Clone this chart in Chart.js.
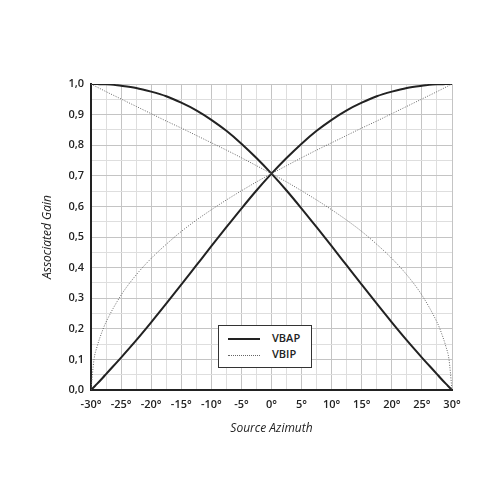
<!DOCTYPE html>
<html lang="en">
<head>
<meta charset="UTF-8">
<script src="https://cdn.jsdelivr.net/npm/chart.js"></script>
<title>VBAP vs VBIP</title>
<style>
  html, body { margin: 0; padding: 0; background: #fff; }
  #wrap { position: relative; width: 500px; height: 500px; }
  #legend {
    position: absolute; left: 218px; top: 325px; width: 94px; height: 43px;
    box-sizing: border-box; border: 1px solid #333; background: #fff;
    font-family: "Open Sans", sans-serif; font-size: 11px; font-weight: 600; color: #222;
  }
  #legend .row { position: absolute; left: 9px; height: 14px; line-height: 14px; }
  #legend .swatch { display: inline-block; width: 32px; vertical-align: middle; margin-right: 12px; }
</style>
</head>
<body>
<div id="wrap">
  <canvas id="chart" width="500" height="500"></canvas>
  <div id="legend">
    <div class="row" style="top:5px"><span class="swatch" style="border-top:2px solid #222"></span>VBAP</div>
    <div class="row" style="top:21px"><span class="swatch" style="border-top:1px dotted #666"></span>VBIP</div>
  </div>
</div>

<script>
// source azimuth in degrees
const azimuth = [-30, -29.5, -29, -28, -27.5, -25, -22.5, -20, -17.5, -15, -12.5, -10, -7.5, -5, -2.5, 0,
                 2.5, 5, 7.5, 10, 12.5, 15, 17.5, 20, 22.5, 25, 27.5, 28, 29, 29.5, 30];

// gains
const vbapRise = [0, 0.010, 0.020, 0.041, 0.052, 0.106, 0.162, 0.221, 0.282, 0.344, 0.407, 0.470, 0.532, 0.593, 0.652, 0.707,
                  0.758, 0.805, 0.847, 0.883, 0.914, 0.939, 0.960, 0.975, 0.987, 0.994, 0.999, 0.999, 1.000, 1.000, 1.000];
const vbapFall = [1.000, 1.000, 1.000, 0.999, 0.999, 0.994, 0.987, 0.975, 0.960, 0.939, 0.914, 0.883, 0.847, 0.805, 0.758, 0.707,
                  0.652, 0.593, 0.532, 0.470, 0.407, 0.344, 0.282, 0.221, 0.162, 0.106, 0.052, 0.041, 0.020, 0.010, 0];
const vbipRise = [0, 0.100, 0.141, 0.199, 0.222, 0.310, 0.376, 0.430, 0.476, 0.518, 0.555, 0.589, 0.621, 0.651, 0.680, 0.707,
                  0.733, 0.759, 0.784, 0.808, 0.832, 0.856, 0.879, 0.903, 0.927, 0.951, 0.975, 0.980, 0.990, 0.995, 1.000];
const vbipFall = [1.000, 0.995, 0.990, 0.980, 0.975, 0.951, 0.927, 0.903, 0.879, 0.856, 0.832, 0.808, 0.784, 0.759, 0.733, 0.707,
                  0.680, 0.651, 0.621, 0.589, 0.555, 0.518, 0.476, 0.430, 0.376, 0.310, 0.222, 0.199, 0.141, 0.100, 0];

function pts(vals) {
    return azimuth.map((a, i) => ({ x: a, y: vals[i] }));
}

const solid = { borderColor: '#222', borderWidth: 2, pointRadius: 0, cubicInterpolationMode: 'monotone', fill: false };
const dotted = { borderColor: '#666', borderWidth: 1, borderDash: [1, 1.5], pointRadius: 0, cubicInterpolationMode: 'monotone', fill: false };

const font = { family: '"Open Sans", sans-serif', size: 11, weight: '600' };
const titleFont = { family: '"Open Sans", sans-serif', size: 12, style: 'italic' };

new Chart(document.getElementById('chart'), {
    type: 'line',
    data: {
        datasets: [
            Object.assign({ label: 'VBIP', data: pts(vbipRise) }, dotted),
            Object.assign({ label: 'VBIP ', data: pts(vbipFall) }, dotted),
            Object.assign({ label: 'VBAP', data: pts(vbapRise) }, solid),
            Object.assign({ label: 'VBAP ', data: pts(vbapFall) }, solid)
        ]
    },
    options: {
        responsive: false,
        animation: false,
        layout: { padding: { left: 36, top: 84, right: 48, bottom: 60 } },
        plugins: { legend: { display: false }, tooltip: { enabled: false } },
        scales: {
            x: {
                type: 'linear', min: -30, max: 30,
                afterFit: s => { s.height = 50; },
                border: { color: '#222', width: 2 },
                grid: {
                    drawTicks: false,
                    color: c => (c.tick && Math.abs(c.tick.value % 5) < 0.01) ? '#c4c4c4' : '#dedede'
                },
                ticks: {
                    stepSize: 2.5, padding: 8, color: '#222', font: font, maxRotation: 0, autoSkip: false,
                    callback: v => Math.abs(v % 5) < 0.01 ? v + '°' : ''
                },
                title: { display: true, text: 'Source Azimuth', color: '#222', padding: { top: 10 }, font: titleFont }
            },
            y: {
                min: 0, max: 1,
                afterFit: s => { s.width = 55; },
                border: { color: '#222', width: 2 },
                grid: {
                    drawTicks: false,
                    color: c => (c.tick && Math.round(c.tick.value * 100) % 10 === 0) ? '#c4c4c4' : '#dedede'
                },
                ticks: {
                    stepSize: 0.05, padding: 7, color: '#222', font: font, autoSkip: false,
                    callback: v => Math.round(v * 100) % 10 === 0 ? v.toFixed(1).replace('.', ',') : ''
                },
                title: { display: true, text: 'Associated Gain', color: '#222', padding: { bottom: 4 }, font: titleFont }
            }
        }
    }
});
</script>
</body>
</html>
